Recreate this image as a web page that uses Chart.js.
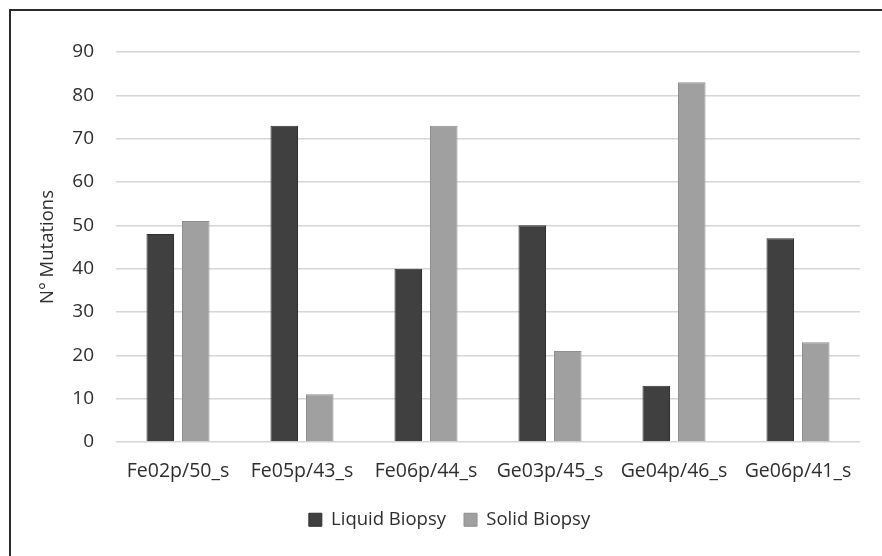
<!DOCTYPE html>
<html>
<head>
<meta charset="utf-8">
<script src="https://cdn.jsdelivr.net/npm/chart.js@4"></script>
<style>
  html, body { margin: 0; padding: 0; background: #ffffff; overflow: hidden; }
  #wrap { position: relative; width: 882px; height: 556px; overflow: hidden; }
  #chart { position: absolute; left: 0; top: 0; }
  #frame {
    position: absolute; left: 9px; top: 9px; right: -10px; bottom: -10px;
    border-left: 2px solid #2b2b2b; border-top: 2px solid #2b2b2b;
    pointer-events: none;
  }
</style>
</head>
<body>
<div id="wrap">
  <canvas id="chart" width="899" height="556"></canvas>
  <div id="frame"></div>
</div>
<script>
const categories = ['Fe02p/50_s', 'Fe05p/43_s', 'Fe06p/44_s', 'Ge03p/45_s', 'Ge04p/46_s', 'Ge06p/41_s'];
const liquidBiopsy = [48, 73, 40, 50, 13, 47];
const solidBiopsy = [51, 11, 73, 21, 83, 23];
const seriesNames = ['Liquid Biopsy', 'Solid Biopsy'];
const yTitle = 'N° Mutations';

const FONT = '"Open Sans", Lato, sans-serif';
const TEXT = '#2e2e2e';

new Chart(document.getElementById('chart'), {
  type: 'bar',
  data: {
    labels: categories,
    datasets: [
      {
        label: seriesNames[0],
        data: liquidBiopsy,
        backgroundColor: '#404040',
        borderColor: '#2f2f2f',
        borderWidth: 1,
        categoryPercentage: 0.573,
        barPercentage: 0.775
      },
      {
        label: seriesNames[1],
        data: solidBiopsy,
        backgroundColor: '#a0a0a0',
        borderColor: '#8e8e8e',
        borderWidth: 1,
        categoryPercentage: 0.573,
        barPercentage: 0.775
      }
    ]
  },
  options: {
    responsive: false,
    animation: false,
    devicePixelRatio: 1,
    layout: { padding: { top: 52, left: 0, right: 0, bottom: 17 } },
    plugins: {
      legend: {
        position: 'bottom',
        labels: {
          color: TEXT,
          font: { family: FONT, size: 18.5 },
          boxWidth: 13,
          boxHeight: 13,
          padding: 18
        }
      },
      tooltip: { enabled: false }
    },
    scales: {
      x: {
        grid: { display: false },
        border: { display: false },
        ticks: {
          color: TEXT,
          font: { family: FONT, size: 19.5 },
          padding: 10,
          maxRotation: 0,
          autoSkip: false
        },
        afterFit(scale) { scale.height = 50.5; }
      },
      y: {
        min: 0,
        max: 90,
        position: 'left',
        border: { display: false },
        grid: { color: '#d6d6d6', lineWidth: 1.5, drawTicks: false },
        ticks: {
          stepSize: 10,
          color: TEXT,
          font: { family: FONT, size: 19 },
          padding: 22
        },
        title: {
          display: true,
          text: yTitle,
          color: TEXT,
          font: { family: FONT, size: 18.5 },
          padding: { top: 37, bottom: 0 }
        },
        afterFit(scale) { scale.width = 116; }
      },
      yRight: {
        position: 'right',
        min: 0,
        max: 90,
        grid: { display: false, drawTicks: false },
        border: { display: false },
        ticks: { display: false },
        afterFit(scale) { scale.width = 39; }
      }
    }
  }
});
</script>
</body>
</html>
